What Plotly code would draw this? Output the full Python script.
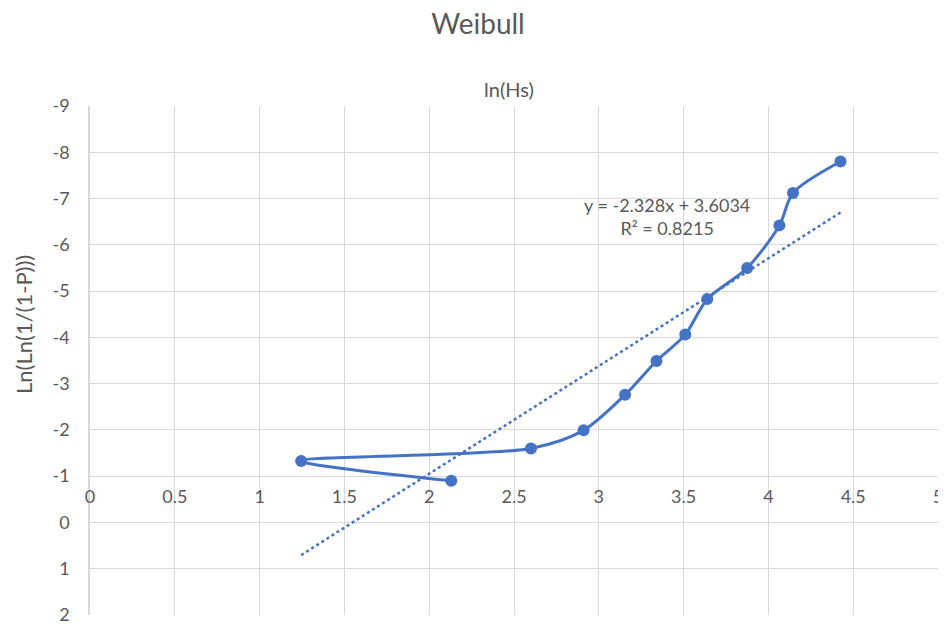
import plotly.graph_objects as go

# Data
ln_hs = [2.13, 1.245, 2.60, 2.91, 3.155, 3.34, 3.51, 3.64, 3.875, 4.065, 4.145, 4.425]
ln_ln = [-0.90, -1.33, -1.60, -1.99, -2.76, -3.49, -4.06, -4.83, -5.50, -6.42, -7.12, -7.80]

slope = -2.328
intercept = 3.6034
r2 = 0.8215

x_ticks = [0, 0.5, 1, 1.5, 2, 2.5, 3, 3.5, 4, 4.5, 5]
x_labels = ["0", "0.5", "1", "1.5", "2", "2.5", "3", "3.5", "4", "4.5", "5"]
y_ticks = [-9, -8, -7, -6, -5, -4, -3, -2, -1, 0, 1, 2]
y_labels = [str(v) for v in y_ticks]

blue = "#4472C4"
grey_text = "#595959"
grid = "#D9D9D9"
font_family = "Lato, 'Open Sans', sans-serif"

# page body has an 8px margin in the browser; figure is sized to fit the rest
W, H = 938, 620
ML, MR, MT, MB = 82, 8, 98, 13
PW, PH = W - ML - MR, H - MT - MB

tx = [min(ln_hs), max(ln_hs)]
ty = [slope * v + intercept for v in tx]

fig = go.Figure()
fig.add_trace(go.Scatter(
    x=ln_hs, y=ln_ln, mode="lines+markers",
    line=dict(color=blue, width=3, shape="spline", smoothing=0.8),
    marker=dict(color=blue, size=12),
    showlegend=False, cliponaxis=False,
))
fig.add_trace(go.Scatter(
    x=tx, y=ty, mode="lines",
    line=dict(color=blue, width=2.5, dash="dot"),
    showlegend=False,
))
# invisible trace carrying the crossing x axis labels
fig.add_trace(go.Scatter(
    x=[0, 5], y=[0, 0], xaxis="x2", mode="markers",
    marker=dict(opacity=0), showlegend=False, hoverinfo="skip",
))

fig.add_annotation(
    x=3.4, y=-6.62, xref="x", yref="y",
    text=f"y = {slope}x + {intercept}<br>R² = {r2}",
    showarrow=False, align="center",
    font=dict(family=font_family, size=18, color=grey_text),
)
fig.add_annotation(
    x=0.494, y=1.0, xref="paper", yref="paper", yanchor="bottom",
    yshift=3, text="ln(Hs)", showarrow=False,
    font=dict(family=font_family, size=20, color=grey_text),
)
fig.add_annotation(
    x=(23 - 90) / PW, y=(615 - 325) / PH, xref="paper", yref="paper",
    xanchor="center", yanchor="middle", showarrow=False,
    text="Ln(Ln(1/(1-P)))", textangle=-90,
    font=dict(family=font_family, size=22, color=grey_text),
)

fig.update_layout(
    width=W, height=H,
    paper_bgcolor="white", plot_bgcolor="white",
    margin=dict(l=ML, r=MR, t=MT, b=MB),
    title=dict(text="Weibull", x=(478 - 8) / W, xanchor="center",
               y=1 - 16 / H, yanchor="middle",
               font=dict(family=font_family, size=28, color=grey_text)),
    font=dict(family=font_family, color=grey_text),
    xaxis=dict(
        range=[0, 5], tickvals=x_ticks, showgrid=True, gridcolor=grid, gridwidth=1,
        zeroline=False, showline=False, showticklabels=False, ticks="",
        automargin=False,
    ),
    xaxis2=dict(
        overlaying="x", matches="x", range=[0, 5], anchor="free", position=0.257,
        tickvals=x_ticks, ticktext=x_labels, showgrid=False, zeroline=False,
        showline=False, ticks="", automargin=False, ticklabeloverflow="allow",
        tickfont=dict(family=font_family, size=18, color=grey_text),
    ),
    yaxis=dict(
        range=[2, -9], tickvals=y_ticks, ticktext=y_labels, showgrid=True,
        gridcolor=grid, gridwidth=1, zeroline=False, showline=True,
        linecolor=grid, linewidth=1.5, ticks="", ticklabelstandoff=15,
        automargin=False, ticklabeloverflow="allow",
        tickfont=dict(family=font_family, size=18, color=grey_text),
    ),
)

fig.write_html("out.html")
